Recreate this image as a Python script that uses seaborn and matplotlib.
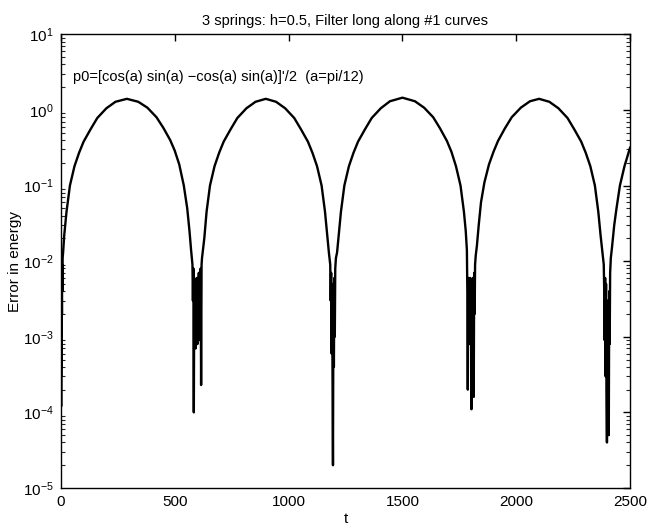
import matplotlib
matplotlib.use("Agg")
import matplotlib.pyplot as plt
import matplotlib.ticker as mticker
import seaborn as sns
import pandas as pd

# ---- data ----
hump1_t = [0, 0.5, 1, 1.5, 2, 2.5, 3, 3.5, 4, 5, 6, 7, 8,
           10, 15, 25, 40, 60, 80, 100, 130, 160, 200, 240, 290, 340, 380, 420, 450,
           480, 500, 520, 540, 555, 565, 572, 578]
hump1_e = [0.009, 0.0003, 0.006, 0.00012, 0.004, 0.0008, 0.008, 0.0004, 0.005, 0.002, 0.009, 0.004, 0.011,
           0.013, 0.022, 0.045, 0.1, 0.18, 0.27, 0.38, 0.55, 0.78, 1.05, 1.28, 1.4, 1.28, 1.07, 0.8, 0.58,
           0.4, 0.29, 0.19, 0.1, 0.05, 0.025, 0.014, 0.009]

dip1_t = [580, 582, 584, 586, 588, 590, 592, 594, 596, 598, 600, 602, 604, 606, 608, 610, 612, 614,
          616, 618, 620]
dip1_e = [0.003, 0.008, 0.0001, 0.006, 0.0009, 0.005, 0.0007, 0.004, 0.0012, 0.006, 0.0008, 0.005,
          0.0015, 0.007, 0.001, 0.006, 0.0009, 0.008, 0.00023, 0.009, 0.011]

hump2_t = [630, 640, 655, 675, 695, 715, 745, 775, 815, 855, 900, 945, 985, 1025, 1055, 1085, 1105,
           1125, 1145, 1160, 1170, 1177, 1183]
hump2_e = [0.02, 0.045, 0.1, 0.18, 0.27, 0.38, 0.55, 0.78, 1.05, 1.28, 1.4, 1.28, 1.05, 0.78, 0.55,
           0.38, 0.27, 0.18, 0.1, 0.045, 0.022, 0.013, 0.009]

dip2_t = [1185, 1187, 1189, 1191, 1193, 1195, 1197, 1199, 1201, 1203, 1205, 1208]
dip2_e = [0.003, 0.007, 0.0006, 0.005, 0.0003, 0.00002, 0.004, 0.0004, 0.006, 0.001, 0.008, 0.011]

hump3_t = [1213, 1220, 1230, 1245, 1265, 1285, 1305, 1335, 1365, 1405, 1445, 1500, 1555, 1595, 1635,
           1665, 1695, 1715, 1735, 1755, 1770, 1778, 1783]
hump3_e = [0.013, 0.022, 0.045, 0.1, 0.18, 0.27, 0.38, 0.55, 0.78, 1.05, 1.3, 1.45, 1.3, 1.07, 0.8,
           0.57, 0.39, 0.28, 0.18, 0.1, 0.045, 0.025, 0.014]

dip3_t = [1785, 1787, 1789, 1791, 1793, 1795, 1797, 1799, 1801, 1803, 1805, 1807, 1809, 1811, 1813,
          1815, 1817, 1819, 1822]
dip3_e = [0.004, 0.0002, 0.006, 0.0012, 0.005, 0.0008, 0.006, 0.0015, 0.004, 0.00011, 0.005, 0.0009,
          0.006, 0.0016, 0.00016, 0.007, 0.002, 0.009, 0.012]

hump4_t = [1827, 1835, 1845, 1860, 1880, 1900, 1920, 1950, 1980, 2020, 2060, 2100, 2145, 2185, 2225,
           2255, 2285, 2305, 2325, 2345, 2360, 2370, 2378, 2384]
hump4_e = [0.016, 0.03, 0.06, 0.11, 0.19, 0.28, 0.39, 0.57, 0.8, 1.07, 1.3, 1.4, 1.28, 1.05, 0.78,
           0.55, 0.38, 0.27, 0.18, 0.1, 0.045, 0.022, 0.013, 0.009]

dip4_t = [2386, 2388, 2390, 2392, 2394, 2396, 2398, 2400, 2402, 2404, 2406, 2408, 2410, 2412, 2415]
dip4_e = [0.004, 0.0009, 0.006, 0.0003, 0.005, 0.0002, 0.00004, 0.003, 0.0004, 0.0025, 0.00005,
          0.004, 0.0008, 0.007, 0.011]

hump5_t = [2420, 2430, 2440, 2455, 2475, 2500]
hump5_e = [0.015, 0.03, 0.05, 0.1, 0.18, 0.32]

x_ticks = [0, 500, 1000, 1500, 2000, 2500]

title_text = "3 springs: h=0.5, Filter long along #1 curves"
note_text = "p0=[cos(a) sin(a) \u2212cos(a) sin(a)]'/2  (a=pi/12)"

t_all = hump1_t + dip1_t + hump2_t + dip2_t + hump3_t + dip3_t + hump4_t + dip4_t + hump5_t
e_all = hump1_e + dip1_e + hump2_e + dip2_e + hump3_e + dip3_e + hump4_e + dip4_e + hump5_e
df = pd.DataFrame({"t": t_all, "err": e_all})

# ---- style ----
sns.set_theme(style="white")
plt.rcParams["font.family"] = ["Liberation Sans", "DejaVu Sans"]
plt.rcParams["mathtext.fontset"] = "custom"
plt.rcParams["mathtext.rm"] = "Liberation Sans"
plt.rcParams["mathtext.it"] = "Liberation Sans:italic"
plt.rcParams["mathtext.bf"] = "Liberation Sans:bold"

fig = plt.figure(figsize=(6.47, 5.27), dpi=100)
ax = fig.add_axes([0.094, 0.074, 0.880, 0.861])

sns.lineplot(data=df, x="t", y="err", estimator=None, sort=False, color="black",
             linewidth=1.7, ax=ax)

ax.set_yscale("log")
ax.set_xlim(0, 2500)
ax.set_ylim(1e-5, 1e1)
ax.set_xticks(x_ticks)
ax.set_xticklabels([str(v) for v in x_ticks])
ax.yaxis.set_major_locator(mticker.LogLocator(base=10, numticks=10))
ax.yaxis.set_minor_locator(mticker.LogLocator(base=10, subs=range(2, 10), numticks=20))
ax.yaxis.set_minor_formatter(mticker.NullFormatter())

for s in ax.spines.values():
    s.set_color("black")
    s.set_linewidth(1.0)

ax.tick_params(axis="both", which="major", direction="in", length=5, width=1,
               top=True, right=True, labelsize=11, colors="black", pad=5)
ax.tick_params(axis="y", which="minor", direction="in", length=3, width=0.8,
               left=True, right=True)
ax.tick_params(axis="x", which="minor", bottom=False, top=False)

ax.set_xlabel("t", fontsize=11, labelpad=2, color="black")
ax.set_ylabel("Error in energy", fontsize=11, labelpad=1, color="black")
ax.set_title(title_text, fontsize=10.5, pad=7, color="black")
ax.text(0.021, 0.905, note_text, transform=ax.transAxes, fontsize=10.5,
        ha="left", va="center", color="black")

fig.savefig("out.png", dpi=100, facecolor="white")
